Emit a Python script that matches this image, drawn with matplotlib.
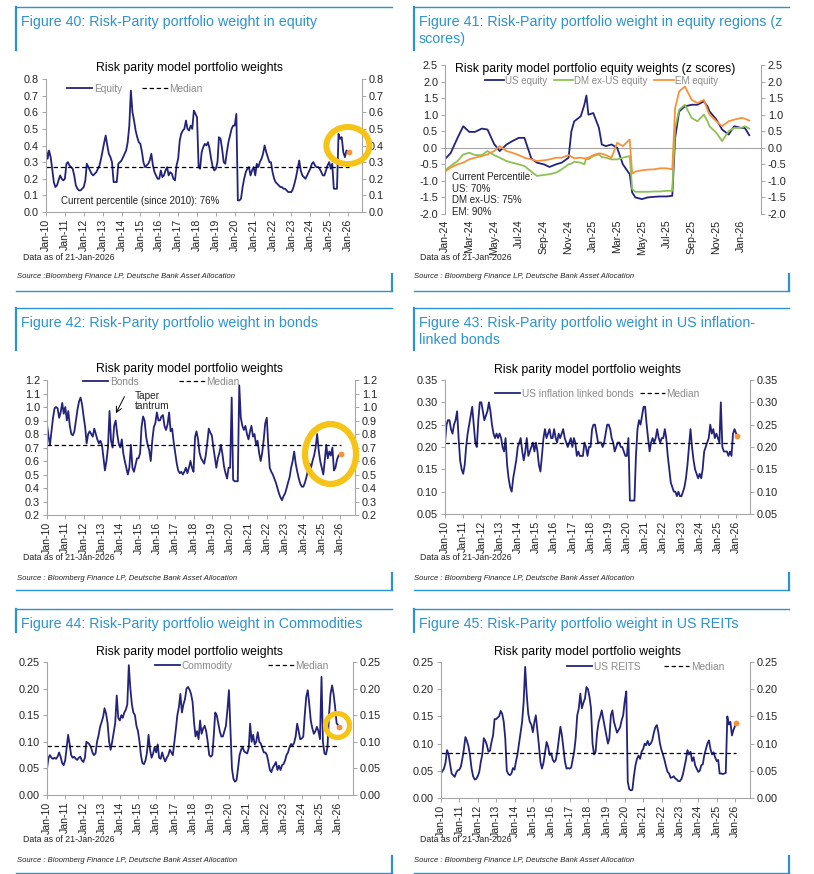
import pandas as pd
import matplotlib
matplotlib.use("Agg")
import matplotlib.pyplot as plt
import matplotlib.dates as mdates
from matplotlib.lines import Line2D
from matplotlib.patches import Ellipse
from matplotlib.ticker import FormatStrFormatter

plt.rcParams["font.family"] = ["Liberation Sans", "DejaVu Sans"]
plt.rcParams["axes.unicode_minus"] = False

W, H = 814, 874
BLUE = "#2b93d1"
NAVY = "#23237b"
GREEN = "#8dc153"
ORANGE = "#f7923a"
YELLOW = "#f6c417"
GREY_TXT = "#8a8a8a"
SPINE = "#a6a6a6"
TXT = "#222222"

# monthly readings Jan-2010 .. Dec-2025, last point is 21-Jan-2026 (orange dot)
months = pd.date_range("2010-01-01", "2025-12-01", freq="MS")
dates = months.append(pd.DatetimeIndex(["2026-01-21"]))

equity = [
    0.38, 0.32, 0.37, 0.33, 0.26, 0.18, 0.15, 0.16, 0.19, 0.22, 0.20, 0.19,
    0.20, 0.29, 0.30, 0.28, 0.27, 0.26, 0.22, 0.16, 0.14, 0.13, 0.13, 0.14,
    0.15, 0.19, 0.29, 0.27, 0.25, 0.23, 0.22, 0.23, 0.24, 0.26, 0.28, 0.32,
    0.37, 0.42, 0.46, 0.40, 0.35, 0.33, 0.30, 0.18, 0.18, 0.18, 0.29, 0.30,
    0.31, 0.33, 0.35, 0.37, 0.42, 0.52, 0.73, 0.60, 0.55, 0.49, 0.45, 0.42,
    0.41, 0.36, 0.30, 0.27, 0.28, 0.29, 0.31, 0.35, 0.28, 0.24, 0.22, 0.20,
    0.20, 0.25, 0.21, 0.22, 0.25, 0.27, 0.22, 0.24, 0.23, 0.20, 0.19, 0.28,
    0.32, 0.43, 0.47, 0.49, 0.50, 0.55, 0.50, 0.49, 0.52, 0.50, 0.61, 0.59,
    0.57, 0.27, 0.26, 0.36, 0.39, 0.41, 0.40, 0.42, 0.38, 0.32, 0.27, 0.25,
    0.26, 0.30, 0.45, 0.44, 0.38, 0.30, 0.29, 0.36, 0.42, 0.46, 0.50, 0.52,
    0.52, 0.59, 0.07, 0.07, 0.08, 0.15, 0.20, 0.24, 0.26, 0.27, 0.22, 0.25,
    0.27, 0.22, 0.29, 0.27, 0.30, 0.32, 0.35, 0.40, 0.36, 0.33, 0.30, 0.30,
    0.24, 0.20, 0.18, 0.17, 0.16, 0.15, 0.15, 0.14, 0.14, 0.13, 0.12, 0.12,
    0.12, 0.14, 0.17, 0.21, 0.26, 0.31, 0.25, 0.22, 0.21, 0.20, 0.22, 0.24,
    0.26, 0.29, 0.30, 0.28, 0.27, 0.27, 0.26, 0.24, 0.22, 0.22, 0.25, 0.28,
    0.30, 0.26, 0.29, 0.14, 0.14, 0.14, 0.47, 0.44, 0.45, 0.36, 0.33, 0.37,
    0.36,
]

bonds = [
    0.87, 0.78, 0.72, 0.82, 0.92, 0.99, 1.00, 0.99, 0.92, 0.96, 1.03, 0.95,
    1.00, 0.90, 0.97, 0.86, 0.80, 0.79, 0.82, 0.90, 0.98, 1.04, 1.07, 1.02,
    0.93, 0.85, 0.73, 0.80, 0.82, 0.80, 0.78, 0.84, 0.80, 0.76, 0.73, 0.75,
    0.72, 0.62, 0.53, 0.60, 0.70, 0.97, 0.75, 0.70, 0.86, 0.90, 0.80, 0.73,
    0.70, 0.76, 0.66, 0.60, 0.55, 0.50, 0.55, 0.72, 0.55, 0.52, 0.57, 0.62,
    0.62, 0.66, 0.85, 0.93, 0.90, 0.78, 0.72, 0.68, 0.60, 0.75, 0.85, 0.88,
    0.96, 0.90, 0.90, 0.93, 0.94, 0.86, 0.83, 0.87, 0.96, 0.82, 0.84, 0.74,
    0.66, 0.58, 0.53, 0.51, 0.52, 0.50, 0.52, 0.55, 0.51, 0.55, 0.60, 0.55,
    0.52, 0.78, 0.82, 0.76, 0.66, 0.62, 0.60, 0.58, 0.64, 0.73, 0.84, 0.81,
    0.79, 0.70, 0.63, 0.55, 0.62, 0.66, 0.72, 0.65, 0.56, 0.51, 0.47, 0.55,
    0.55, 1.07, 0.46, 0.45, 0.45, 0.45, 1.16, 0.92, 0.86, 0.83, 0.86, 0.80,
    0.76, 0.82, 0.86, 0.78, 0.80, 0.72, 0.75, 0.66, 0.60, 0.66, 0.76, 0.88,
    0.92, 0.70, 0.55, 0.52, 0.50, 0.47, 0.44, 0.40, 0.36, 0.33, 0.31, 0.34,
    0.36, 0.40, 0.44, 0.48, 0.55, 0.60, 0.67, 0.58, 0.52, 0.47, 0.43, 0.41,
    0.41, 0.44, 0.48, 0.53, 0.58, 0.55, 0.60, 0.64, 0.70, 0.80, 0.68, 0.60,
    0.55, 0.50, 0.60, 0.72, 0.62, 0.67, 0.64, 0.70, 0.53, 0.55, 0.61, 0.64,
    0.655,
]

ilb = [
    0.21, 0.25, 0.26, 0.26, 0.24, 0.23, 0.25, 0.26, 0.28, 0.22, 0.17, 0.15,
    0.14, 0.16, 0.20, 0.23, 0.25, 0.27, 0.29, 0.25, 0.21, 0.20, 0.26, 0.30,
    0.30, 0.28, 0.26, 0.27, 0.28, 0.30, 0.28, 0.25, 0.23, 0.22, 0.23, 0.22,
    0.23, 0.22, 0.20, 0.19, 0.22, 0.16, 0.13, 0.11, 0.10, 0.13, 0.15, 0.17,
    0.20, 0.21, 0.22, 0.19, 0.17, 0.19, 0.22, 0.18, 0.19, 0.20, 0.21, 0.19,
    0.21, 0.19, 0.16, 0.145, 0.18, 0.22, 0.24, 0.22, 0.23, 0.24, 0.22, 0.22,
    0.24, 0.22, 0.21, 0.23, 0.22, 0.23, 0.24, 0.22, 0.21, 0.20, 0.21, 0.22,
    0.20, 0.22, 0.21, 0.18, 0.19, 0.18, 0.18, 0.18, 0.21, 0.20, 0.18, 0.20,
    0.20, 0.24, 0.25, 0.25, 0.23, 0.21, 0.21, 0.21, 0.20, 0.21, 0.23, 0.25,
    0.25, 0.24, 0.22, 0.21, 0.19, 0.20, 0.21, 0.21, 0.20, 0.20, 0.19, 0.18,
    0.18, 0.22, 0.08, 0.08, 0.08, 0.08, 0.18, 0.24, 0.26, 0.25, 0.27, 0.29,
    0.29, 0.25, 0.22, 0.19, 0.21, 0.22, 0.21, 0.22, 0.24, 0.22, 0.21, 0.22,
    0.22, 0.24, 0.22, 0.18, 0.15, 0.12, 0.11, 0.10, 0.10, 0.09, 0.10, 0.09,
    0.09, 0.10, 0.11, 0.13, 0.16, 0.20, 0.24, 0.20, 0.17, 0.15, 0.14, 0.13,
    0.14, 0.13, 0.15, 0.19, 0.20, 0.21, 0.22, 0.25, 0.23, 0.24, 0.22, 0.23,
    0.22, 0.21, 0.30, 0.20, 0.19, 0.19, 0.19, 0.18, 0.19, 0.18, 0.23, 0.24,
    0.225,
]

commodity = [
    0.050, 0.070, 0.075, 0.070, 0.068, 0.070, 0.068, 0.072, 0.080, 0.072, 0.060, 0.056,
    0.065, 0.090, 0.113, 0.095, 0.075, 0.070, 0.072, 0.068, 0.066, 0.070, 0.072, 0.065,
    0.062, 0.070, 0.100, 0.098, 0.095, 0.090, 0.080, 0.075, 0.078, 0.100, 0.112, 0.128,
    0.137, 0.147, 0.163, 0.153, 0.135, 0.100, 0.085, 0.100, 0.118, 0.135, 0.187, 0.145,
    0.140, 0.150, 0.145, 0.155, 0.160, 0.170, 0.244, 0.200, 0.170, 0.155, 0.150, 0.130,
    0.120, 0.100, 0.075, 0.060, 0.058, 0.065, 0.080, 0.113, 0.085, 0.070, 0.078, 0.090,
    0.080, 0.095, 0.070, 0.068, 0.080, 0.070, 0.063, 0.070, 0.075, 0.085, 0.080, 0.075,
    0.100, 0.125, 0.150, 0.165, 0.190, 0.155, 0.170, 0.180, 0.200, 0.203, 0.198, 0.190,
    0.175, 0.135, 0.110, 0.120, 0.105, 0.140, 0.115, 0.125, 0.130, 0.120, 0.100, 0.075,
    0.072, 0.075, 0.110, 0.155, 0.150, 0.135, 0.120, 0.110, 0.110, 0.120, 0.130, 0.160,
    0.197, 0.120, 0.050, 0.030, 0.025, 0.028, 0.050, 0.075, 0.085, 0.090, 0.082, 0.080,
    0.078, 0.088, 0.134, 0.100, 0.113, 0.095, 0.100, 0.118, 0.100, 0.097, 0.088, 0.080,
    0.080, 0.075, 0.063, 0.047, 0.043, 0.052, 0.056, 0.062, 0.047, 0.055, 0.047, 0.056,
    0.058, 0.065, 0.075, 0.080, 0.090, 0.096, 0.093, 0.098, 0.110, 0.134, 0.120, 0.105,
    0.106, 0.110, 0.150, 0.185, 0.197, 0.170, 0.140, 0.125, 0.115, 0.120, 0.128, 0.120,
    0.105, 0.222, 0.100, 0.078, 0.076, 0.090, 0.150, 0.190, 0.206, 0.190, 0.165, 0.135,
    0.128,
]

reits = [
    0.045, 0.050, 0.054, 0.065, 0.088, 0.080, 0.062, 0.045, 0.042, 0.039, 0.047, 0.051,
    0.052, 0.058, 0.072, 0.090, 0.112, 0.105, 0.095, 0.078, 0.054, 0.040, 0.034, 0.035,
    0.040, 0.048, 0.066, 0.080, 0.110, 0.105, 0.097, 0.085, 0.087, 0.103, 0.115, 0.145,
    0.145, 0.148, 0.150, 0.160, 0.155, 0.140, 0.110, 0.050, 0.044, 0.042, 0.045, 0.055,
    0.052, 0.068, 0.080, 0.100, 0.120, 0.140, 0.175, 0.241, 0.190, 0.155, 0.140, 0.135,
    0.121, 0.140, 0.152, 0.125, 0.097, 0.066, 0.054, 0.065, 0.085, 0.103, 0.094, 0.079,
    0.082, 0.070, 0.066, 0.070, 0.085, 0.109, 0.131, 0.115, 0.090, 0.066, 0.054, 0.055,
    0.054, 0.056, 0.070, 0.085, 0.110, 0.152, 0.164, 0.192, 0.165, 0.175, 0.183, 0.204,
    0.200, 0.185, 0.165, 0.100, 0.080, 0.085, 0.120, 0.140, 0.150, 0.161, 0.145, 0.130,
    0.115, 0.100, 0.109, 0.152, 0.161, 0.140, 0.130, 0.120, 0.125, 0.130, 0.143, 0.152,
    0.178, 0.196, 0.030, 0.016, 0.014, 0.015, 0.040, 0.060, 0.072, 0.078, 0.072, 0.085,
    0.090, 0.100, 0.097, 0.105, 0.097, 0.100, 0.106, 0.120, 0.130, 0.134, 0.120, 0.100,
    0.088, 0.079, 0.070, 0.058, 0.048, 0.045, 0.037, 0.038, 0.040, 0.036, 0.034, 0.031,
    0.031, 0.035, 0.043, 0.057, 0.070, 0.088, 0.080, 0.085, 0.068, 0.075, 0.060, 0.054,
    0.048, 0.050, 0.060, 0.062, 0.079, 0.090, 0.100, 0.106, 0.090, 0.080, 0.084, 0.075,
    0.068, 0.070, 0.045, 0.045, 0.044, 0.045, 0.046, 0.150, 0.135, 0.140, 0.115, 0.125,
    0.137,
]

MEDIAN_EQUITY = 0.27
MEDIAN_BONDS = 0.72
MEDIAN_ILB = 0.21
MEDIAN_COMMODITY = 0.093
MEDIAN_REITS = 0.082

# z scores, Jan-2024 .. 21-Jan-2026
z_dates = pd.to_datetime([
    "2024-01-01", "2024-01-15", "2024-02-01", "2024-02-15", "2024-03-01", "2024-03-15",
    "2024-04-01", "2024-04-15", "2024-05-01", "2024-05-15", "2024-06-01", "2024-06-15",
    "2024-07-01", "2024-07-15", "2024-08-01", "2024-08-15", "2024-09-01", "2024-09-15",
    "2024-10-01", "2024-10-15", "2024-11-01", "2024-11-08", "2024-11-15", "2024-12-01",
    "2024-12-10", "2024-12-15", "2024-12-20", "2025-01-01", "2025-01-15", "2025-01-22",
    "2025-02-01", "2025-02-15", "2025-03-01", "2025-03-15", "2025-04-01", "2025-04-07",
    "2025-04-15", "2025-05-01", "2025-05-15", "2025-06-01", "2025-06-15", "2025-07-01",
    "2025-07-15", "2025-07-22", "2025-08-01", "2025-08-15", "2025-09-01", "2025-09-15",
    "2025-10-01", "2025-10-10", "2025-10-15", "2025-11-01", "2025-11-15", "2025-12-01",
    "2025-12-15", "2026-01-01", "2026-01-10", "2026-01-21",
])
us_z = [
    -0.34, -0.16, 0.30, 0.65, 0.48, 0.48, 0.58, 0.55, 0.12, -0.10, 0.10, 0.20,
    0.30, 0.30, -0.32, -0.45, -0.50, -0.58, -0.50, -0.45, -0.30, 0.50, 0.80, 0.95,
    1.30, 1.58, 1.00, 1.05, 0.60, 0.10, 0.05, 0.10, 0.00, -0.50, -0.80, -1.35,
    -1.50, -1.55, -1.50, -1.48, -1.47, -1.47, -1.45, 0.30, 1.10, 1.25, 1.30, 1.30,
    1.40, 1.25, 1.10, 0.85, 0.55, 0.40, 0.65, 0.60, 0.60, 0.38,
]
dm_z = [
    -0.68, -0.55, -0.40, -0.20, -0.15, -0.22, -0.22, -0.10, -0.22, -0.30, -0.40, -0.45,
    -0.50, -0.55, -0.72, -0.85, -0.82, -0.80, -0.75, -0.65, -0.50, -0.48, -0.42, -0.45,
    -0.50, -0.30, -0.35, -0.25, -0.20, -0.28, -0.30, -0.35, -0.35, -0.30, -0.25, -1.25,
    -1.33, -1.33, -1.33, -1.32, -1.32, -1.30, -1.30, 0.60, 1.15, 1.30, 0.90, 0.80,
    1.00, 0.80, 0.65, 0.45, 0.20, 0.50, 0.60, 0.60, 0.65, 0.58,
]
em_z = [
    -0.72, -0.60, -0.50, -0.45, -0.35, -0.30, -0.25, -0.20, -0.10, 0.05, -0.10, -0.15,
    -0.22, -0.30, -0.35, -0.40, -0.38, -0.35, -0.30, -0.30, -0.22, -0.27, -0.32, -0.30,
    -0.32, -0.35, -0.30, -0.22, -0.17, -0.18, -0.22, -0.30, 0.15, 0.05, 0.25, -0.78,
    -0.72, -0.68, -0.66, -0.65, -0.62, -0.62, -0.65, 1.20, 1.70, 1.85, 1.45, 1.35,
    1.45, 1.15, 1.00, 0.80, 0.65, 0.80, 0.85, 0.90, 0.88, 0.82,
]

fig = plt.figure(figsize=(W / 100, H / 100), dpi=100)


def fx(px):
    return px / W


def fy(py):
    return 1 - py / H


def add_axes(x0, top, x1, bottom):
    return fig.add_axes([fx(x0), fy(bottom), (x1 - x0) / W, (bottom - top) / H])


def frame(x0, x1, top, bar_end, bottom, title):
    fig.add_artist(Line2D([fx(x0), fx(x1)], [fy(top), fy(top)], color=BLUE, lw=1.0))
    fig.add_artist(Line2D([fx(x0), fx(x0)], [fy(top), fy(bar_end)], color=BLUE, lw=1.6))
    fig.add_artist(Line2D([fx(x0), fx(x1)], [fy(bottom), fy(bottom)], color=BLUE, lw=1.0))
    fig.add_artist(Line2D([fx(x1), fx(x1)], [fy(bottom - 17), fy(bottom)], color=BLUE, lw=1.6))
    fig.text(fx(x0 + 5), fy(top + 8), title, color=BLUE, fontsize=10.3,
             ha="left", va="top", linespacing=1.3)


def footer(x, y_data, y_src, src):
    fig.text(fx(x + 6), fy(y_data), "Data as of 21-Jan-2026", fontsize=6.3,
             color=TXT, va="center")
    fig.text(fx(x), fy(y_src), src, fontsize=5.5, style="italic", color=TXT, va="center")


def style_axes(ax, yticks, yfmt):
    ax.set_ylim(yticks[0], yticks[-1])
    ax.set_yticks(yticks)
    ax.yaxis.set_major_formatter(FormatStrFormatter(yfmt))
    ax.tick_params(axis="y", left=True, right=True, labelleft=True, labelright=True,
                   direction="out", length=3, width=0.7, color=SPINE,
                   labelsize=7.8, labelcolor=TXT, pad=2)
    ax.tick_params(axis="x", direction="out", length=3, width=0.7, color=SPINE,
                   labelsize=7.6, labelcolor=TXT, labelrotation=90, pad=2)
    ax.spines["top"].set_visible(False)
    for s in ("left", "right", "bottom"):
        ax.spines[s].set_color(SPINE)
        ax.spines[s].set_linewidth(0.8)
    ax.set_facecolor("none")


def weight_panel(box, values, median, yticks, yfmt, label, leg_xy, colsp, xend,
                 title_xy):
    ax = add_axes(*box)
    ax.plot(dates, values, color=NAVY, lw=1.3, label=label)
    ax.plot([dates[0], dates[-1]], [median, median], color="black", lw=0.9,
            ls=(0, (3.5, 2.2)), label="Median")
    ax.plot(dates[-1], values[-1], "o", color=ORANGE, ms=4.2, mec="none", zorder=6)
    ax.set_xlim(pd.Timestamp("2010-01-01"), pd.Timestamp(xend))
    ax.xaxis.set_major_locator(mdates.YearLocator())
    ax.xaxis.set_major_formatter(mdates.DateFormatter("%b-%y"))
    style_axes(ax, yticks, yfmt)
    ax.legend(loc="center left", bbox_to_anchor=leg_xy, ncol=2, frameon=False,
              fontsize=7.3, labelcolor=GREY_TXT, handlelength=2.5, handletextpad=0.15,
              columnspacing=colsp, borderpad=0, borderaxespad=0)
    fig.text(fx(title_xy[0]), fy(title_xy[1]), "Risk parity model portfolio weights",
             fontsize=8.8, color="black", ha="center", va="center")
    return ax


def ring(ax, center, width_days, height, lw):
    e = Ellipse((mdates.date2num(pd.Timestamp(center)), height[0]), width_days, height[1],
                fill=False, ec=YELLOW, lw=lw, clip_on=False, zorder=5)
    ax.add_patch(e)


# ---------- frames ----------
frame(16, 392, 7, 50, 291, "Figure 40: Risk-Parity portfolio weight in equity")
frame(414, 789, 7, 50, 291,
      "Figure 41: Risk-Parity portfolio weight in equity regions (z\nscores)")
frame(16, 392, 308, 350, 590, "Figure 42: Risk-Parity portfolio weight in bonds")
frame(414, 789, 308, 350, 590,
      "Figure 43: Risk-Parity portfolio weight in US inflation-\nlinked bonds")
frame(16, 392, 609, 632, 873, "Figure 44: Risk-Parity portfolio weight in Commodities")
frame(414, 789, 609, 632, 873, "Figure 45: Risk-Parity portfolio weight in US REITs")

SRC = "Source : Bloomberg Finance LP, Deutsche Bank Asset Allocation"
footer(17, 257, 277, "Source :Bloomberg Finance LP, Deutsche Bank Asset Allocation")
footer(414, 257, 277, SRC)
footer(17, 558, 578, SRC)
footer(414, 558, 578, SRC)
footer(17, 840, 861, SRC)
footer(414, 840, 861, SRC)

# ---------- Figure 40: equity ----------
ax1 = weight_panel((46, 79, 362, 212), equity, MEDIAN_EQUITY,
                   [0.0, 0.1, 0.2, 0.3, 0.4, 0.5, 0.6, 0.7, 0.8], "%.1f", "Equity",
                   (0.066, 0.925), 2.0, "2026-09-28", (190, 68))
ring(ax1, "2025-12-29", 833, (0.40, 0.223), 4.3)
fig.text(fx(61), fy(201), "Current percentile (since 2010): 76%", fontsize=7,
         color=TXT, va="center")

# ---------- Figure 41: z scores ----------
axz = add_axes(445, 65, 761, 214)
axz.plot(z_dates, us_z, color=NAVY, lw=1.3, label="US equity")
axz.plot(z_dates, dm_z, color=GREEN, lw=1.3, label="DM ex-US equity")
axz.plot(z_dates, em_z, color=ORANGE, lw=1.3, label="EM equity")
axz.axhline(0, color=SPINE, lw=0.8, zorder=0)
axz.set_xlim(pd.Timestamp("2024-01-01"), pd.Timestamp("2026-02-19"))
axz.xaxis.set_major_locator(mdates.MonthLocator(bymonth=[1, 3, 5, 7, 9, 11]))
axz.xaxis.set_major_formatter(mdates.DateFormatter("%b-%y"))
style_axes(axz, [-2.0, -1.5, -1.0, -0.5, 0.0, 0.5, 1.0, 1.5, 2.0, 2.5], "%.1f")
axz.spines["bottom"].set_visible(False)
axz.tick_params(axis="x", length=0, pad=4)
axz.legend(loc="center left", bbox_to_anchor=(0.125, 0.895), ncol=3, frameon=False,
           fontsize=7.0, labelcolor=GREY_TXT, handlelength=2.0, handletextpad=0.1,
           columnspacing=0.7, borderpad=0, borderaxespad=0)
fig.text(fx(595), fy(69), "Risk parity model portfolio equity weights (z scores)",
         fontsize=8.8, color="black", ha="center", va="center")
fig.text(fx(452), fy(172), "Current Percentile:\nUS: 70%\nDM ex-US: 75%\nEM: 90%",
         fontsize=7, color=TXT, va="top", linespacing=1.2)

# ---------- Figure 42: bonds ----------
ax2 = weight_panel((47, 380, 355, 515), bonds, MEDIAN_BONDS,
                   [0.2, 0.3, 0.4, 0.5, 0.6, 0.7, 0.8, 0.9, 1.0, 1.1, 1.2], "%.1f", "Bonds",
                   (0.117, 0.985), 4.0, "2026-10-26", (189, 369))
ring(ax2, "2025-06-25", 1018, (0.652, 0.444), 4.5)
ax2.annotate("", xy=(pd.Timestamp("2013-09-10"), 0.935),
             xytext=(pd.Timestamp("2014-04-20"), 1.095),
             arrowprops=dict(arrowstyle="->", color="black", lw=0.7))
ax2.text(pd.Timestamp("2014-10-20"), 1.044, "Taper\ntantrum", fontsize=7.3,
         color=TXT, va="center", ha="left", linespacing=1.1)

# ---------- Figure 43: US inflation linked bonds ----------
weight_panel((445, 380, 750, 514), ilb, MEDIAN_ILB,
             [0.05, 0.10, 0.15, 0.20, 0.25, 0.30, 0.35], "%.2f", "US inflation linked bonds",
             (0.164, 0.896), 0.6, "2026-10-08", (587, 370))

# ---------- Figure 44: commodities ----------
ax4 = weight_panel((47, 662, 353, 795), commodity, MEDIAN_COMMODITY,
                   [0.00, 0.05, 0.10, 0.15, 0.20, 0.25], "%.2f", "Commodity",
                   (0.353, 0.97), 3.5, "2026-10-26", (189, 652))
ring(ax4, "2025-12-20", 482, (0.1306, 0.045), 3.8)

# ---------- Figure 45: US REITs ----------
weight_panel((441, 662, 750, 798), reits, MEDIAN_REITS,
             [0.00, 0.05, 0.10, 0.15, 0.20, 0.25], "%.2f", "US REITS",
             (0.408, 0.963), 2.3, "2026-10-26", (587, 652))

fig.savefig("out.png", dpi=100, facecolor="white")
